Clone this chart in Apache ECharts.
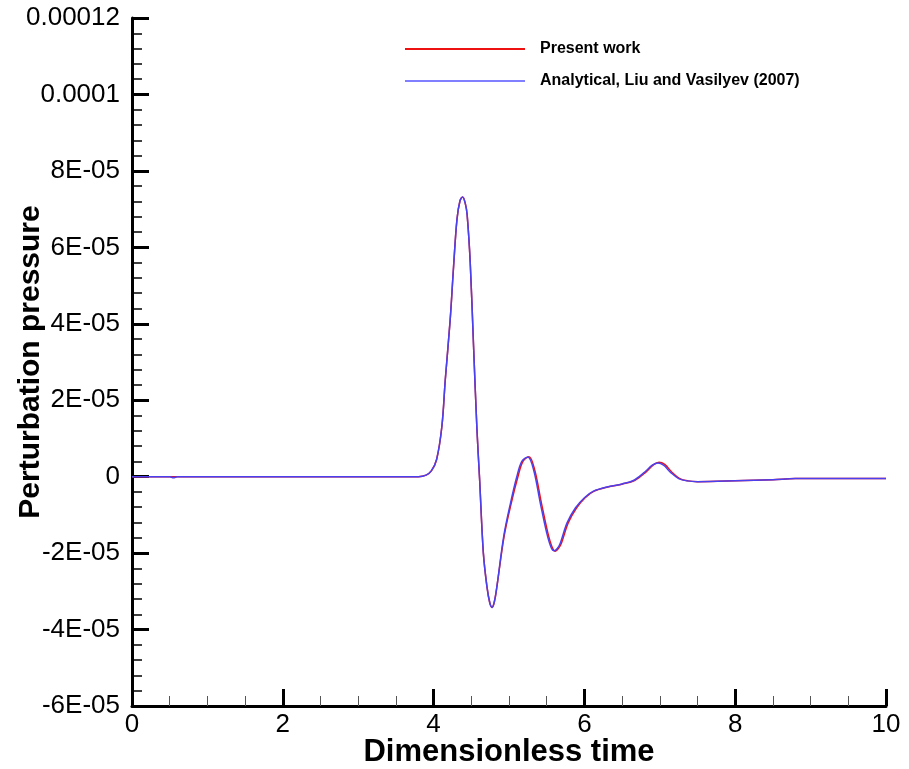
<!DOCTYPE html>
<html>
<head>
<meta charset="utf-8">
<script src="https://cdn.jsdelivr.net/npm/echarts@6/dist/echarts.min.js"></script>
<style>
html,body{margin:0;padding:0;background:#fff;}
#chart{width:909px;height:769px;}
</style>
</head>
<body>
<div id="chart"></div>
<script>
// Values in units of 1E-05
const analyticalT = [0, 0.5, 0.55, 0.6, 1.5, 2.5, 3.5, 3.8, 3.9, 3.97, 4.04, 4.11, 4.155, 4.22, 4.265, 4.31, 4.35, 4.385, 4.42, 4.445, 4.486, 4.53, 4.575, 4.61, 4.66, 4.707, 4.745, 4.775, 4.805, 4.84, 4.93, 5.02, 5.105, 5.17, 5.25, 5.326, 5.415, 5.50, 5.56, 5.60, 5.64, 5.68, 5.77, 5.88, 6.0, 6.12, 6.3, 6.5, 6.65, 6.8, 6.9, 6.975, 7.05, 7.15, 7.25, 7.36, 7.5, 8.0, 8.5, 8.8, 9.2, 10];
const analyticalP = [0, 0, -0.03, 0, 0, 0, 0, 0, 0.04, 0.15, 0.45, 1.32, 2.54, 4.11, 5.5, 6.73, 7.22, 7.32, 7.15, 6.85, 5.59, 3.41, 1.23, -0.06, -2.0, -2.87, -3.3, -3.42, -3.28, -2.87, -1.56, -0.69, 0.01, 0.40, 0.515, 0.18, -0.69, -1.47, -1.86, -1.94, -1.88, -1.74, -1.21, -0.82, -0.55, -0.38, -0.27, -0.19, -0.1, 0.12, 0.3, 0.36, 0.3, 0.1, -0.05, -0.11, -0.13, -0.11, -0.08, -0.05, -0.05, -0.05];

const presentT = [0, 0.5, 1.5, 2.5, 3.5, 3.8, 3.9, 3.97, 4.04, 4.11, 4.155, 4.22, 4.265, 4.31, 4.35, 4.385, 4.42, 4.445, 4.486, 4.53, 4.575, 4.61, 4.66, 4.707, 4.745, 4.775, 4.805, 4.84, 4.935, 5.03, 5.12, 5.185, 5.265, 5.34, 5.43, 5.515, 5.575, 5.615, 5.655, 5.695, 5.785, 5.895, 6.01, 6.13, 6.31, 6.51, 6.665, 6.815, 6.915, 6.99, 7.065, 7.165, 7.265, 7.375, 7.5, 8.0, 8.5, 8.8, 9.2, 10];
const presentP = [0, 0, 0, 0, 0, 0, 0.04, 0.15, 0.45, 1.32, 2.54, 4.11, 5.5, 6.73, 7.22, 7.32, 7.15, 6.85, 5.59, 3.41, 1.23, -0.06, -2.0, -2.87, -3.3, -3.42, -3.28, -2.87, -1.56, -0.69, 0.01, 0.40, 0.52, 0.18, -0.69, -1.47, -1.86, -1.95, -1.88, -1.74, -1.21, -0.82, -0.55, -0.38, -0.27, -0.19, -0.1, 0.12, 0.31, 0.38, 0.32, 0.11, -0.05, -0.11, -0.13, -0.11, -0.08, -0.05, -0.05, -0.05];

const yTickValues = [-6, -4, -2, 0, 2, 4, 6, 8, 10, 12];
const yTickLabels = ['-6E-05', '-4E-05', '-2E-05', '0', '2E-05', '4E-05', '6E-05', '8E-05', '0.0001', '0.00012'];
const xTickValues = [0, 2, 4, 6, 8, 10];
const xTickLabels = ['0', '2', '4', '6', '8', '10'];

const seriesNames = ['Present work', 'Analytical, Liu and Vasilyev (2007)'];

function pairs(t, p) { return t.map((v, i) => [v, p[i]]); }

const FONT = "'Liberation Sans', Arial, sans-serif";
const chart = echarts.init(document.getElementById('chart'), null, {renderer: 'canvas'});

chart.setOption({
  animation: false,
  backgroundColor: '#ffffff',
  grid: {left: 132, right: 23, top: 18, bottom: 63, containLabel: false, outerBoundsMode: 'none'},
  legend: {
    orient: 'vertical',
    left: 400,
    top: 36,
    padding: 5,
    itemWidth: 120,
    itemHeight: 2,
    itemGap: 16,
    icon: 'rect',
    data: seriesNames,
    textStyle: {fontFamily: FONT, fontSize: 16, fontWeight: 'bold', color: '#000', padding: [0, 0, 0, 10]}
  },
  xAxis: {
    type: 'value',
    min: 0, max: 10, interval: 2,
    name: 'Dimensionless time',
    nameLocation: 'middle',
    nameGap: 31,
    nameMoveOverlap: false,
    nameTextStyle: {fontFamily: FONT, fontSize: 31, fontWeight: 'bold', color: '#000'},
    axisLine: {show: true, onZero: false, lineStyle: {color: '#000', width: 3}},
    axisTick: {show: true, inside: true, length: 17, lineStyle: {color: '#000', width: 3}},
    minorTick: {show: true, splitNumber: 4, length: 10, lineStyle: {color: '#555', width: 1}},
    splitLine: {show: false},
    axisLabel: {
      fontFamily: FONT, fontSize: 26, color: '#000', margin: 6,
      formatter: function (v) { const i = xTickValues.indexOf(Math.round(v)); return i >= 0 ? xTickLabels[i] : ''; }
    }
  },
  yAxis: {
    type: 'value',
    min: -6, max: 12, interval: 2,
    name: 'Perturbation pressure',
    nameLocation: 'middle',
    nameGap: 86,
    nameMoveOverlap: false,
    nameTextStyle: {fontFamily: FONT, fontSize: 30, fontWeight: 'bold', color: '#000'},
    axisLine: {show: true, onZero: false, lineStyle: {color: '#000', width: 3}},
    axisTick: {show: true, inside: true, length: 17, lineStyle: {color: '#000', width: 3}},
    minorTick: {show: true, splitNumber: 5, length: 10, lineStyle: {color: '#000', width: 1.5}},
    splitLine: {show: false},
    axisLabel: {
      fontFamily: FONT, fontSize: 26, color: '#000', margin: 12,
      formatter: function (v) { const i = yTickValues.indexOf(Math.round(v)); return i >= 0 ? yTickLabels[i] : ''; }
    }
  },
  series: [
    {
      name: seriesNames[0], type: 'line', data: pairs(presentT, presentP),
      showSymbol: false, symbol: 'none', smooth: 0.35,
      lineStyle: {color: '#ee1111', width: 1.5}, itemStyle: {color: '#ee1111'}, z: 2
    },
    {
      name: seriesNames[1], type: 'line', data: pairs(analyticalT, analyticalP),
      showSymbol: false, symbol: 'none', smooth: 0.35,
      lineStyle: {color: '#4a40f0', width: 1.5}, itemStyle: {color: '#7f7fff'}, z: 3
    }
  ]
});
</script>
</body>
</html>
